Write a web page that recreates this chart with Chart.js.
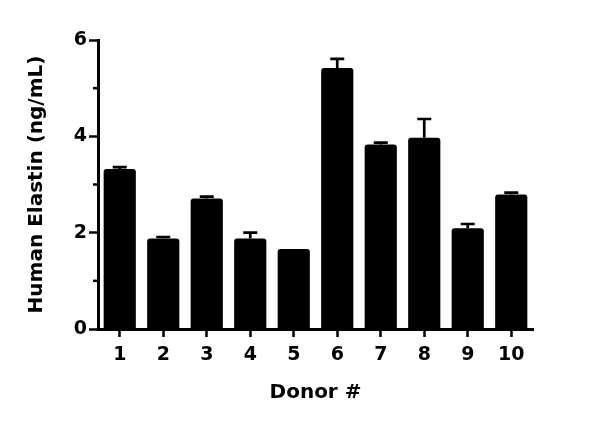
<!DOCTYPE html>
<html>
<head>
<meta charset="utf-8">
<script src="https://cdn.jsdelivr.net/npm/chart.js@4/dist/chart.umd.min.js"></script>
<style>
html,body{margin:0;padding:0;background:#fff;}
#wrap{width:600px;height:428px;position:relative;}
</style>
</head>
<body>
<div id="wrap"><canvas id="c"></canvas></div>
<script>
const categories = ['1','2','3','4','5','6','7','8','9','10'];
const means = [3.32, 1.88, 2.71, 1.88, 1.66, 5.42, 3.83, 3.97, 2.09, 2.79];
const errors = [0.04, 0.03, 0.04, 0.12, 0.0, 0.19, 0.04, 0.39, 0.09, 0.04];
const yTicks = [0, 2, 4, 6];
const yMinorTicks = [1, 3, 5];
const xTitle = 'Donor #';
const yTitle = 'Human Elastin (ng/mL)';

const FONT = 'DejaVu Sans';

const errorBarPlugin = {
  id: 'errorBars',
  afterDatasetsDraw(chart) {
    const ctx = chart.ctx;
    const meta = chart.getDatasetMeta(0);
    const y = chart.scales.y;
    ctx.save();
    ctx.strokeStyle = '#000';
    ctx.lineWidth = 2.7;
    meta.data.forEach((bar, i) => {
      const e = errors[i];
      if (!e) return;
      const x = bar.x;
      const yTop = y.getPixelForValue(means[i] + e);
      const yBase = y.getPixelForValue(means[i]);
      ctx.beginPath();
      ctx.moveTo(x, yBase);
      ctx.lineTo(x, yTop);
      ctx.moveTo(x - 7, yTop);
      ctx.lineTo(x + 7, yTop);
      ctx.stroke();
    });
    // minor ticks on y axis
    const left = chart.chartArea.left;
    ctx.lineWidth = 2.5;
    yMinorTicks.forEach(v => {
      const py = y.getPixelForValue(v);
      ctx.beginPath();
      ctx.moveTo(left - 5, py);
      ctx.lineTo(left, py);
      ctx.stroke();
    });
    ctx.restore();
  }
};

new Chart(document.getElementById('c'), {
  type: 'bar',
  data: {
    labels: categories,
    datasets: [{
      data: means,
      backgroundColor: '#000',
      borderWidth: 0,
      borderRadius: 3,
      borderSkipped: 'start',
      barPercentage: 0.74,
      categoryPercentage: 1.0
    }]
  },
  options: {
    responsive: true,
    maintainAspectRatio: false,
    animation: false,
    devicePixelRatio: 1,
    layout: { padding: { left: 0, top: 40, right: 67, bottom: 0 } },
    plugins: { legend: { display: false }, tooltip: { enabled: false } },
    scales: {
      x: {
        afterFit: (s) => { s.height = 99; },
        grid: { display: true, drawOnChartArea: false, offset: false, tickLength: 8, tickWidth: 2.5, tickColor: '#000' },
        border: { display: true, color: '#000', width: 3 },
        ticks: { color: '#000', padding: 7, font: { family: FONT, size: 19, weight: 'bold' } },
        title: { display: true, text: xTitle, color: '#000', padding: { top: 0, bottom: 23 }, font: { family: FONT, size: 20, weight: 'bold' } }
      },
      y: {
        min: 0, max: 6,
        afterFit: (s) => { s.width = 98; },
        afterBuildTicks: (s) => { s.ticks = yTicks.map(v => ({ value: v })); },
        grid: { display: true, drawOnChartArea: false, tickLength: 9, tickWidth: 2.5, tickColor: '#000' },
        border: { display: true, color: '#000', width: 3 },
        ticks: { color: '#000', padding: 2, font: { family: FONT, size: 19, weight: 'bold' } },
        title: { display: true, text: yTitle, color: '#000', padding: { top: 25, bottom: 0 }, font: { family: FONT, size: 20, weight: 'bold' } }
      }
    }
  },
  plugins: [errorBarPlugin]
});
</script>
</body>
</html>
